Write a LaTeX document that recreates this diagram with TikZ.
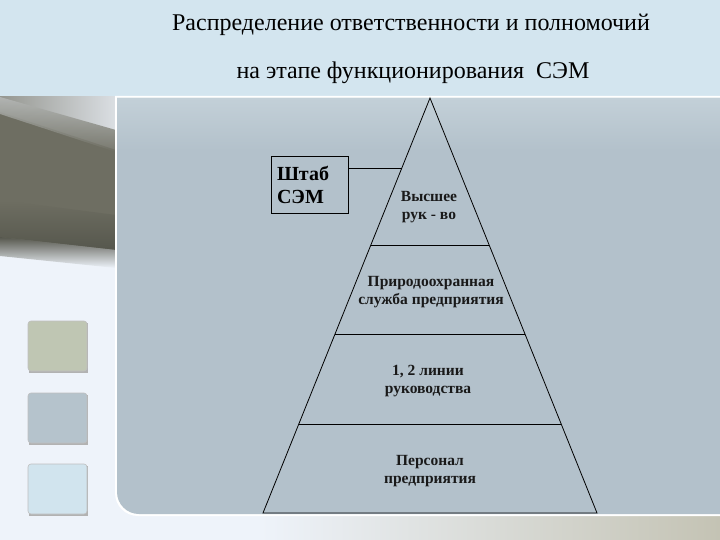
\documentclass[tikz,border=0pt]{standalone}
\usepackage{fontspec}
\setmainfont{Liberation Serif}
\usetikzlibrary{calc}
\definecolor{band}{HTML}{D3E5EF}
\definecolor{leftbg}{HTML}{EEF3FA}
\definecolor{panel}{HTML}{B3C1CB}
\definecolor{panellight}{HTML}{C3D0D8}
\definecolor{paneldark}{HTML}{949FA8}
\definecolor{olive}{HTML}{6E6E62}
\definecolor{olivedark}{HTML}{56574D}
\definecolor{beige}{HTML}{C4C3B4}
\definecolor{sqA}{HTML}{BFC6B3}
\definecolor{sqB}{HTML}{B5C3CC}
\definecolor{sqC}{HTML}{D1E4EE}
\tikzset{
  titletext/.style={font=\fontsize{24}{28}\selectfont, text=black},
  level/.style={font=\bfseries\fontsize{15.5}{18.5}\selectfont, align=center, text=black!90},
  shtabbox/.style={draw, thick, font=\bfseries\fontsize{20}{23}\selectfont, align=left, minimum width=77pt, minimum height=57pt, text width=65pt, inner xsep=5pt, inner ysep=4pt},
  pyr/.style={draw=black, line width=0.8pt},
  swatch/.style={rounded corners=3pt, draw=black!25, line width=0.6pt}
}
\begin{document}
\begin{tikzpicture}[x=1pt,y=-1pt]
\useasboundingbox (0,0) rectangle (720,540);
% background
\fill[leftbg] (0,0) rectangle (720,540);
\fill[band] (0,0) rectangle (720,96);
% upper-left dark streak
\begin{scope}
\clip (0,97) rectangle (116,300);
\shade[left color=olive!70!leftbg, right color=leftbg!85!olive] (0,97) rectangle (116,150);
\fill[olive] (0,112) -- (116,150) -- (116,253) -- (0,240) -- cycle;
\shade[top color=olive!45!leftbg, bottom color=olive, opacity=0.9] (0,97) -- (116,130) -- (116,152) -- (0,114) -- cycle;
\shade[top color=olive, bottom color=olivedark] (0,200) -- (116,215) -- (116,250) -- (0,237) -- cycle;
\shade[top color=olivedark, bottom color=leftbg] (0,237) -- (116,250) -- (116,268) -- (0,256) -- cycle;
\end{scope}
% bottom strip
\shade[left color=leftbg, right color=beige] (260,516) rectangle (720,540);
% panel
\fill[white] (115,96) -- (720,96) -- (720,516) {[rounded corners=23pt] -- (115,516) -- (115,300)} -- cycle;
\begin{scope}
\clip (117,98) -- (720,98) -- (720,514) {[rounded corners=22pt] -- (117,514) -- (117,300)} -- cycle;
\fill[panel] (0,0) rectangle (720,540);
\shade[top color=panellight, bottom color=panel] (117,98) rectangle (720,150);
\shade[top color=panel, middle color=paneldark, bottom color=panel, opacity=0.85] (117,170) -- (720,290) -- (720,514) -- (117,400) -- cycle;
\end{scope}
% swatches
\fill[black!30] (29,323) rectangle (88,373);
\fill[swatch, fill=sqA] (28,321) rectangle (87,371);
\fill[black!30] (29,395) rectangle (88,445);
\fill[swatch, fill=sqB] (28,393) rectangle (87,443);
\fill[black!30] (29,466) rectangle (88,516);
\fill[swatch, fill=sqC] (28,464) rectangle (87,514);
% title
\node[titletext] (t1) at (411,25) {Распределение ответственности и полномочий};
\node[titletext] (t2) at (413,73) {на этапе функционирования\ \ СЭМ};
% pyramid
\coordinate (apex) at (430,98);
\coordinate (bl) at (263,513);
\coordinate (br) at (597,513);
\draw[pyr] (apex) -- (bl) -- (br) -- cycle;
\coordinate (l1) at ($(apex)!0.3542!(bl)$);
\coordinate (r1) at ($(apex)!0.3542!(br)$);
\coordinate (l2) at ($(apex)!0.5687!(bl)$);
\coordinate (r2) at ($(apex)!0.5687!(br)$);
\coordinate (l3) at ($(apex)!0.7855!(bl)$);
\coordinate (r3) at ($(apex)!0.7855!(br)$);
\draw[pyr] (l1) -- (r1);
\draw[pyr] (l2) -- (r2);
\draw[pyr] (l3) -- (r3);
\node[level] (v1) at (429,207) {Высшее\\рук - во};
\node[level] (v2) at (431,292) {Природоохранная\\служба предприятия};
\node[level] (v3) at (428,381) {1, 2 линии\\руководства};
\node[level] (v4) at (430,471) {Персонал\\предприятия};
% shtab
\node[shtabbox] (shtab) at (309.5,184.5) {Штаб\\СЭМ};
\coordinate (c) at ($(apex)!0.1687!(bl)$);
\draw[pyr] (c -| shtab.east) -- (c);
\end{tikzpicture}
\end{document}
